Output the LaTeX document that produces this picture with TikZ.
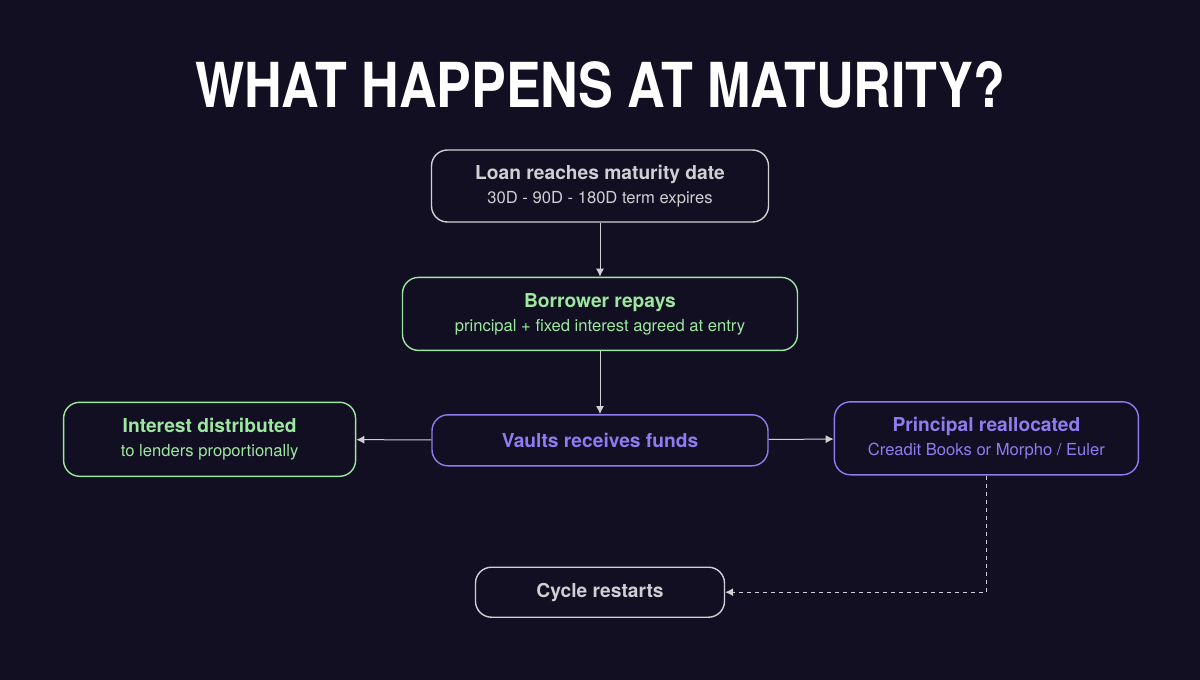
\documentclass[tikz,border=0pt]{standalone}
\usepackage{fontspec}
\setmainfont{TeX Gyre Heros}
\usetikzlibrary{arrows.meta, positioning}
\usepackage{xcolor}
\definecolor{bgnavy}{HTML}{120F22}
\definecolor{softgrey}{HTML}{CFCFD4}
\definecolor{mint}{HTML}{9DE8A0}
\definecolor{lilac}{HTML}{8E7CF0}

\begin{document}
\begin{tikzpicture}[
    x=0.5pt, y=-0.5pt,
    node distance=27pt and 37.5pt,
    box/.style={draw=softgrey, text=softgrey, rounded corners=8pt, line width=0.7pt,
                fill=bgnavy, align=center, inner sep=0pt,
                font=\fontsize{8.3}{12}\selectfont},
    okbox/.style={box, draw=mint, text=mint},
    vaultbox/.style={box, draw=lilac, text=lilac},
    arrow/.style={-{Latex[length=4pt, width=4pt]}, softgrey, line width=0.5pt},
    dotarrow/.style={arrow, dash pattern=on 2pt off 2pt},
]
\fill[bgnavy] (0,0) rectangle (1200,680);
\useasboundingbox (0,0) rectangle (1200,680);

\node[text=white, font=\bfseries\fontsize{31}{31}\selectfont, xscale=0.84] (title) at (600,85) {WHAT HAPPENS AT MATURITY?};

\node[box, minimum width=168.5pt, minimum height=36pt] (loan) at (600,186)
    {{\bfseries\fontsize{9.6}{12}\selectfont Loan reaches maturity date}\\30D - 90D - 180D term expires};
\node[okbox, minimum width=197.5pt, minimum height=36.5pt, below=of loan] (repay)
    {{\bfseries\fontsize{9.6}{12}\selectfont Borrower repays}\\principal + fixed interest agreed at entry};
\node[vaultbox, minimum width=168pt, minimum height=25.5pt, below=31.5pt of repay, font=\bfseries\fontsize{9.6}{12}\selectfont] (vaults)
    {Vaults receives funds};
\node[okbox, minimum width=146pt, minimum height=37pt, left=of vaults, yshift=0.5pt] (interest)
    {{\bfseries\fontsize{9.6}{12}\selectfont Interest distributed}\\to lenders proportionally};
\node[vaultbox, minimum width=152pt, minimum height=36.5pt, right=32.5pt of vaults, yshift=1pt] (principal)
    {{\bfseries\fontsize{9.6}{12}\selectfont Principal reallocated}\\Creadit Books or Morpho / Euler};
\node[box, minimum width=124.5pt, minimum height=25pt, below=50pt of vaults, font=\bfseries\fontsize{9.6}{12}\selectfont] (cycle)
    {Cycle restarts};

\draw[arrow] (loan)   -- (repay);
\draw[arrow] (repay)  -- (vaults);
\draw[arrow] (vaults) -- (interest);
\draw[arrow] (vaults) -- (principal);
\draw[dotarrow] (principal.south) |- (cycle.east);
\end{tikzpicture}
\end{document}
